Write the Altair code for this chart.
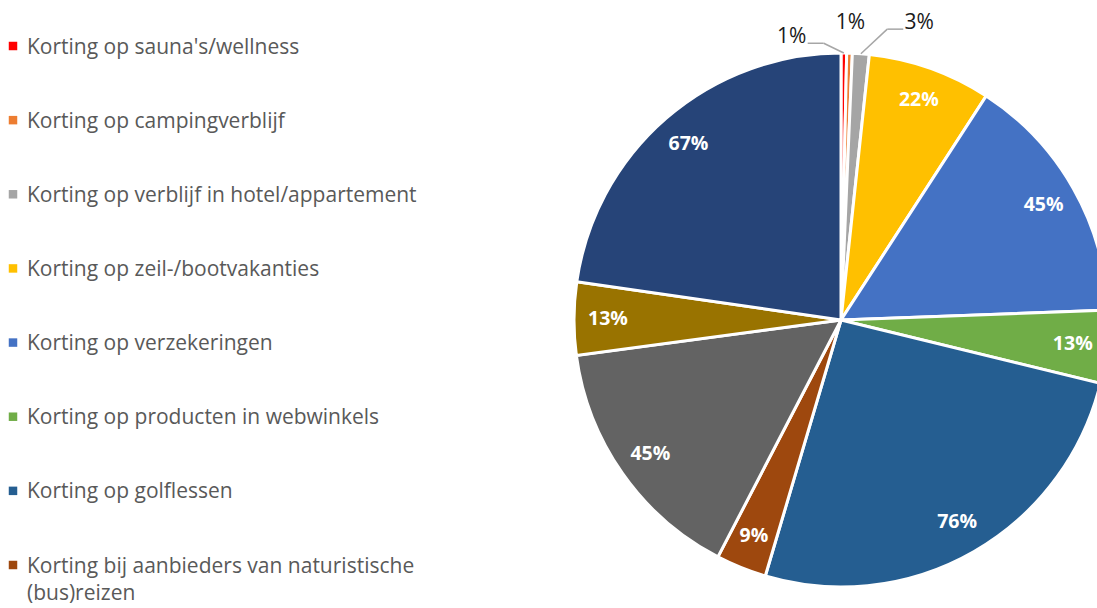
import textwrap
import altair as alt
import pandas as pd

categories = [
    "Korting op sauna's/wellness",
    "Korting op campingverblijf",
    "Korting op verblijf in hotel/appartement",
    "Korting op zeil-/bootvakanties",
    "Korting op verzekeringen",
    "Korting op producten in webwinkels",
    "Korting op golflessen",
    "Korting bij aanbieders van naturistische (bus)reizen",
    "Korting op overige producten",
    "Korting op evenementen",
    "Korting op naturistenterreinen",
]
values = [1, 1, 3, 22, 45, 13, 76, 9, 45, 13, 67]
labels = ["1%", "1%", "3%", "22%", "45%", "13%", "76%", "9%", "45%", "13%", "67%"]
colors = ["#FF0000", "#ED7D31", "#A5A5A5", "#FFC000", "#4472C4", "#70AD47",
          "#255E91", "#9E480E", "#636363", "#997300", "#264478"]
legend_shown = categories[:8]

df = pd.DataFrame({
    "category": categories,
    "value": values,
    "label": labels,
    "order": list(range(len(categories))),
    "legtext": ["\n".join(textwrap.wrap(c, 42)) for c in categories],
})

CX, CY, R = 841, 320, 267
FONT = "Open Sans"

color = alt.Color("category:N", scale=alt.Scale(domain=categories, range=colors), legend=None)

base = alt.Chart(df).encode(
    theta=alt.Theta("value:Q", stack=True),
    color=color,
    order=alt.Order("order:Q"),
)

arcs = base.mark_arc(outerRadius=R, stroke="white", strokeWidth=3).encode(
    x=alt.value(CX), y=alt.value(CY)
)

inner = base.mark_text(radius=233, font=FONT, fontSize=19.5, fontWeight="bold").encode(
    x=alt.value(CX), y=alt.value(CY),
    color=alt.value("white"),
    text=alt.condition("datum.value >= 5", alt.Text("label:N"), alt.value("")),
)

small = (
    alt.Chart(df)
    .transform_joinaggregate(total="sum(value)")
    .transform_window(cum="sum(value)", sort=[alt.SortField("order")], frame=[None, 0])
    .transform_calculate(mid="(datum.cum - datum.value/2)/datum.total*2*PI")
    .transform_filter("datum.value < 5")
    .transform_window(i="row_number()", sort=[alt.SortField("order")])
    .transform_calculate(
        side="datum.i - 2",
        la="datum.mid + (datum.i - 2)*10.5*PI/180",
        lr="287 + (datum.i - 1)*10",
    )
    .transform_calculate(
        lx=f"{CX} + datum.lr*sin(datum.la)",
        ly=f"{CY} - datum.lr*cos(datum.la)",
        rx=f"{CX} + {R}*sin(datum.mid)",
        ry=f"{CY} - {R}*cos(datum.mid)",
    )
    .transform_calculate(
        ex="datum.lx - datum.side*32",
        tx="datum.lx - datum.side*16",
        ey="datum.ly + 6",
    )
)

outer = small.mark_text(font=FONT, fontSize=21, color="#1a1a1a").encode(
    x=alt.X("lx:Q", scale=None), y=alt.Y("ly:Q", scale=None), text="label:N"
)

leaders = small.transform_filter("datum.side != 0")
lead1 = leaders.mark_rule(color="#A6A6A6", strokeWidth=1.5).encode(
    x=alt.X("rx:Q", scale=None), y=alt.Y("ry:Q", scale=None),
    x2="ex:Q", y2="ey:Q",
)
lead2 = leaders.mark_rule(color="#A6A6A6", strokeWidth=1.5).encode(
    x=alt.X("ex:Q", scale=None), y=alt.Y("ey:Q", scale=None),
    x2="tx:Q", y2="ey:Q",
)

leg = alt.Chart(df).transform_filter(
    alt.FieldOneOfPredicate(field="category", oneOf=legend_shown)
).encode(
    y=alt.Y("category:N", scale=alt.Scale(domain=legend_shown, range=[46, 565], padding=0),
            axis=None),
    color=color,
)
leg_sq = leg.mark_square(size=72, opacity=1).encode(x=alt.value(13))
leg_tx = leg.mark_text(align="left", baseline="alphabetic", dy=7.5, font=FONT,
                       fontSize=21, lineBreak="\n", lineHeight=27).encode(
    x=alt.value(27), text="legtext:N", color=alt.value("#595959")
)

chart = alt.layer(arcs, inner, lead1, lead2, outer, leg_sq, leg_tx).properties(
    width=1097, height=608, autosize="none", padding=0
).configure_view(stroke=None)

chart.save("out.html", embed_options={"renderer": "svg", "actions": False})
